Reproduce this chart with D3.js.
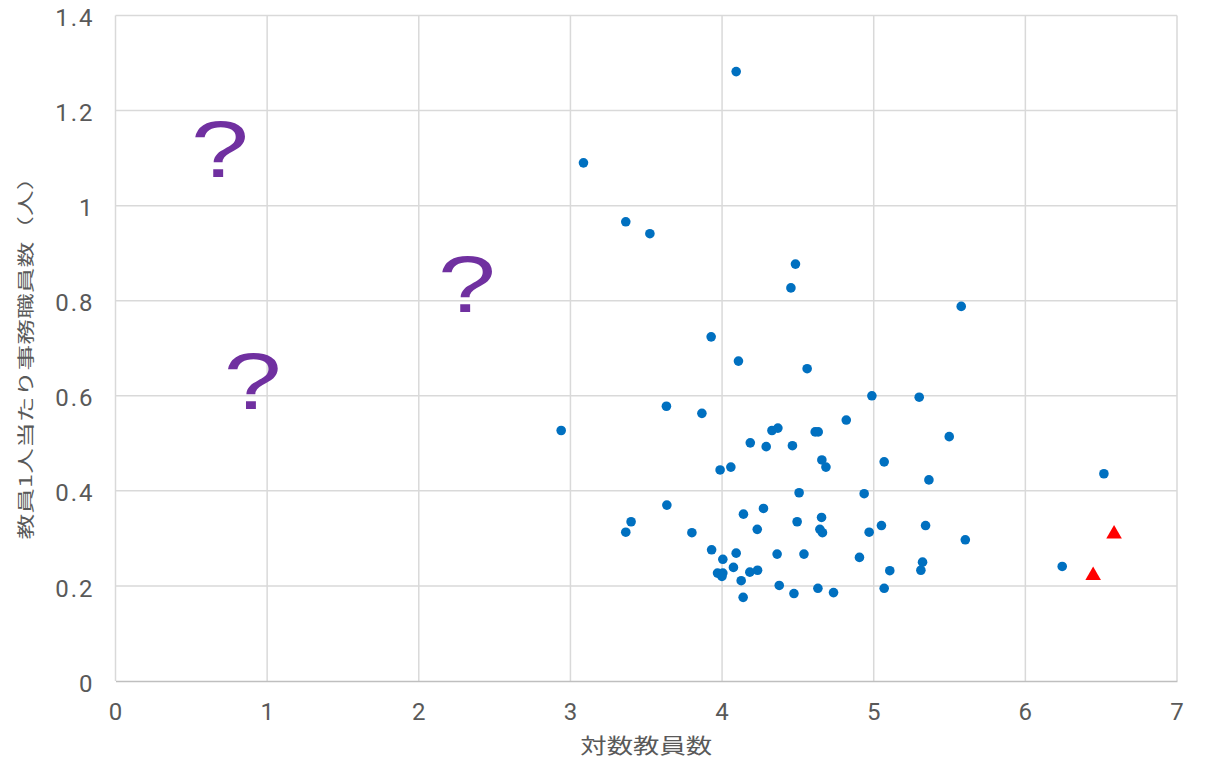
<!DOCTYPE html>
<html>
<head>
<meta charset="utf-8">
<script src="https://cdn.jsdelivr.net/npm/d3@7"></script>
<style>
  body { margin: 0; background: #fff; }
  .tick text { fill: #595959; }
</style>
</head>
<body>
<svg id="scatter"></svg>
<script>
let width = 1207;
let height = 758;
let margin = {top: 15.5, right: 30, bottom: 77, left: 115.5};

// 対数教員数 (x) / 教員1人当たり事務職員数 (y)
let logStaff = [4.093, 3.086, 3.365, 3.524, 4.484, 4.454, 5.577, 3.928, 4.108, 4.561,
    2.939, 3.633, 3.867, 4.988, 5.300, 4.819, 5.498, 4.329, 4.368, 4.614,
    4.634, 4.186, 4.291, 4.464, 4.658, 4.685, 3.987, 4.058, 5.069, 5.364,
    4.508, 4.937, 3.636, 3.400, 3.365, 3.801, 4.141, 4.273, 4.495, 4.656,
    4.645, 4.662, 4.232, 4.970, 5.051, 5.342, 5.604, 3.931, 4.005, 4.093,
    4.075, 3.970, 4.005, 3.999, 4.183, 4.234, 4.126, 4.139, 4.363, 4.540,
    4.906, 5.322, 5.311, 5.106, 4.377, 4.474, 4.632, 4.735, 5.069, 6.518,
    6.243];
let clerksPerStaff = [1.282, 1.090, 0.966, 0.941, 0.877, 0.827, 0.788, 0.724, 0.673, 0.657,
    0.527, 0.578, 0.563, 0.600, 0.597, 0.549, 0.514, 0.527, 0.532, 0.524,
    0.524, 0.501, 0.493, 0.495, 0.465, 0.450, 0.444, 0.450, 0.461, 0.423,
    0.396, 0.394, 0.370, 0.335, 0.313, 0.312, 0.351, 0.363, 0.335, 0.344,
    0.319, 0.312, 0.319, 0.313, 0.327, 0.327, 0.297, 0.276, 0.256, 0.269,
    0.239, 0.227, 0.227, 0.220, 0.229, 0.233, 0.211, 0.176, 0.267, 0.267,
    0.260, 0.250, 0.233, 0.232, 0.201, 0.184, 0.195, 0.186, 0.195, 0.436,
    0.241];

// highlighted (red triangles)
let markX = [6.585, 6.447];
let markY = [0.309, 0.222];

// "?" annotations (x, baseline y)
let questionX = [0.689, 2.318, 0.904];
let questionY = [1.060, 0.776, 0.572];

let xTicks = [0, 1, 2, 3, 4, 5, 6, 7];
let yTicks = [0, 0.2, 0.4, 0.6, 0.8, 1, 1.2, 1.4];
let xTitle = "対数教員数";
let yTitle = "教員1人当たり事務職員数（人）";

let svg = d3.select('#scatter')
    .attr('width', width)
    .attr('height', height);

let plotW = width - margin.left - margin.right;
let plotH = height - margin.top - margin.bottom;

let xScale = d3.scaleLinear().domain([0, 7]).range([0, plotW]);
let yScale = d3.scaleLinear().domain([0, 1.4]).range([plotH, 0]);

let graph = svg.append('g')
    .attr('transform', 'translate(' + margin.left + ',' + margin.top + ')');

// grid
graph.append('g')
    .selectAll('line')
    .data(xTicks)
    .enter()
    .append('line')
    .attr('x1', d => xScale(d)).attr('x2', d => xScale(d))
    .attr('y1', 0).attr('y2', plotH)
    .attr('stroke', '#d9d9d9')
    .attr('stroke-width', 1.5);
graph.append('g')
    .selectAll('line')
    .data(yTicks.filter(d => d > 0))
    .enter()
    .append('line')
    .attr('x1', 0).attr('x2', plotW)
    .attr('y1', d => yScale(d)).attr('y2', d => yScale(d))
    .attr('stroke', '#d9d9d9')
    .attr('stroke-width', 1.5);

// axes
let xAxis = graph.append('g')
    .attr('transform', 'translate(0,' + plotH + ')')
    .call(d3.axisBottom(xScale).tickValues(xTicks).tickSize(0).tickFormat(d => String(d)));
xAxis.select('.domain').attr('stroke', '#bfbfbf').attr('stroke-width', 1.5);
xAxis.selectAll('text')
    .attr('y', 22)
    .attr('dy', '0.71em')
    .style('font-family', 'Roboto, sans-serif')
    .style('font-size', '24px')
    .style('letter-spacing', '1px');

let yAxis = graph.append('g')
    .call(d3.axisLeft(yScale).tickValues(yTicks).tickSize(0).tickFormat(d => String(d)));
yAxis.select('.domain').remove();
yAxis.selectAll('text')
    .attr('x', -21)
    .attr('dy', '0.42em')
    .style('font-family', 'Roboto, sans-serif')
    .style('font-size', '24px')
    .style('letter-spacing', '2px');

// axis titles
svg.append('text')
    .attr('x', margin.left + plotW / 2)
    .attr('y', 753)
    .attr('text-anchor', 'middle')
    .attr('textLength', 132)
    .attr('lengthAdjust', 'spacingAndGlyphs')
    .style('font-family', '"Noto Sans CJK JP", sans-serif')
    .style('font-size', '21px')
    .style('fill', '#595959')
    .text(xTitle);

svg.append('text')
    .attr('transform', 'translate(31.5,' + 352 + ') rotate(-90)')
    .attr('text-anchor', 'middle')
    .attr('textLength', 375)
    .attr('lengthAdjust', 'spacingAndGlyphs')
    .style('font-family', '"Noto Sans CJK JP", sans-serif')
    .style('font-size', '17px')
    .style('fill', '#595959')
    .text(yTitle);

// points
let points = logStaff.map((x, i) => ({x: x, y: clerksPerStaff[i]}));
graph.append('g')
    .selectAll('circle')
    .data(points)
    .enter()
    .append('circle')
    .attr('cx', d => xScale(d.x))
    .attr('cy', d => yScale(d.y))
    .attr('r', 4.8)
    .attr('fill', '#0070c0');

let marks = markX.map((x, i) => ({x: x, y: markY[i]}));
graph.append('g')
    .selectAll('path')
    .data(marks)
    .enter()
    .append('path')
    .attr('d', d3.symbol().type(d3.symbolTriangle).size(105))
    .attr('transform', d => 'translate(' + xScale(d.x) + ',' + yScale(d.y) + ')')
    .attr('fill', '#ff0000');

// question marks
let questions = questionX.map((x, i) => ({x: x, y: questionY[i]}));
graph.append('g')
    .selectAll('text')
    .data(questions)
    .enter()
    .append('text')
    .attr('transform', d => 'translate(' + xScale(d.x) + ',' + yScale(d.y) + ') scale(1.3,1)')
    .attr('text-anchor', 'middle')
    .style('font-family', '"Liberation Sans", Arial, sans-serif')
    .style('font-size', '80px')
    .style('fill', '#7030a0')
    .text('?');
</script>
</body>
</html>
